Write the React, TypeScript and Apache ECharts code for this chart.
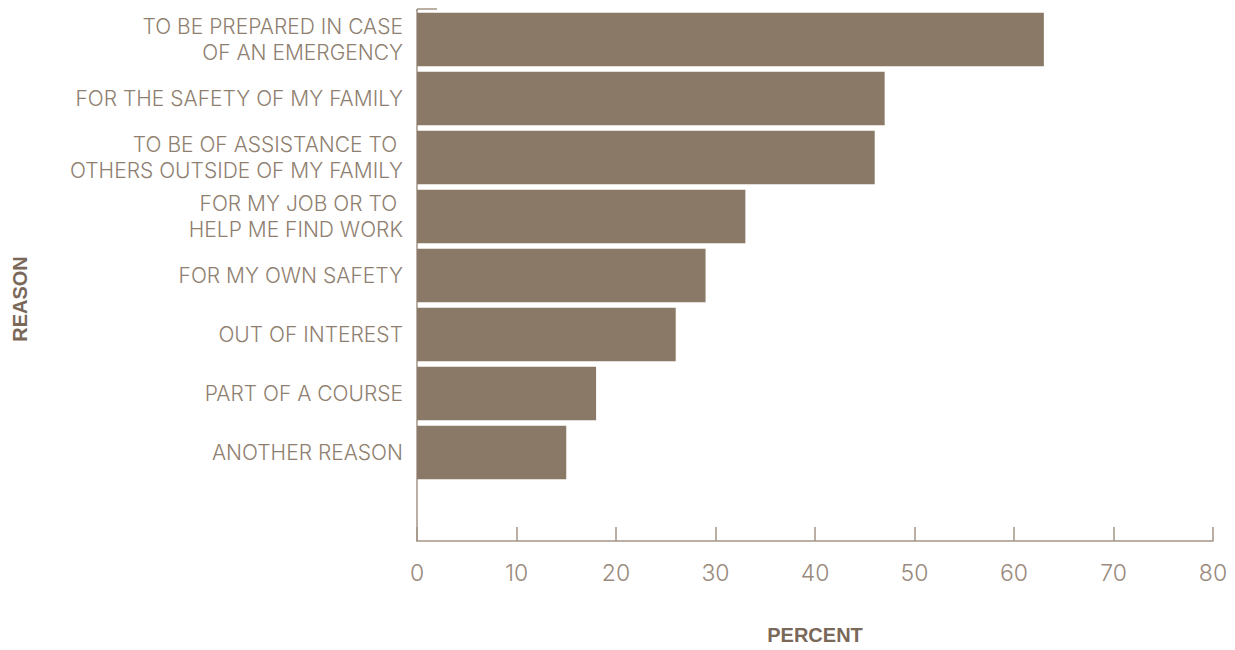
import React, { useEffect, useRef } from "react";
import * as echarts from "echarts";

const categories = [
  "TO BE PREPARED IN CASE\nOF AN EMERGENCY",
  "FOR THE SAFETY OF MY FAMILY",
  "TO BE OF ASSISTANCE TO \nOTHERS OUTSIDE OF MY FAMILY",
  "FOR MY JOB OR TO \nHELP ME FIND WORK",
  "FOR MY OWN SAFETY",
  "OUT OF INTEREST",
  "PART OF A COURSE",
  "ANOTHER REASON",
  "",
];
const values: (number | null)[] = [63, 47, 46, 33, 29, 26, 18, 15, null];
const xTicks = [0, 10, 20, 30, 40, 50, 60, 70, 80];

const BAR = "#8a7967";
const AXIS = "#a39586";
const LABEL = "#8f7f70";
const TICKLABEL = "#998a7d";
const TITLE = "#7a6859";

export default function App() {
  const ref = useRef<HTMLDivElement>(null);
  useEffect(() => {
    if (!ref.current) return;
    const chart = echarts.init(ref.current, null, { renderer: "svg" });
    chart.setOption({
      animation: false,
      grid: { left: 417, right: 22, top: 10, bottom: 105, containLabel: false },
      xAxis: {
        type: "value",
        min: xTicks[0],
        max: xTicks[xTicks.length - 1],
        interval: 10,
        name: "PERCENT",
        nameLocation: "middle",
        nameGap: 84,
        nameTextStyle: { fontFamily: "Liberation Sans", fontWeight: "bold", fontSize: 20, color: TITLE },
        axisLine: { show: true, lineStyle: { color: AXIS, width: 1.5 } },
        axisTick: { show: true, inside: true, length: 14, lineStyle: { color: AXIS, width: 1.5 } },
        axisLabel: { margin: 20, fontFamily: "Inter", fontWeight: 300, fontSize: 23, color: TICKLABEL },
        splitLine: { show: false },
      },
      yAxis: {
        type: "category",
        inverse: true,
        data: categories,
        axisLine: { show: true, lineStyle: { color: AXIS, width: 1.5 } },
        axisTick: { show: false },
        axisLabel: {
          margin: 14,
          fontFamily: "Inter",
          fontWeight: 300,
          fontSize: 21,
          lineHeight: 26,
          color: LABEL,
          align: "right",
        },
      },
      series: [
        {
          type: "bar",
          data: values,
          barCategoryGap: "9%",
          itemStyle: { color: BAR },
        },
      ],
      graphic: [
        {
          type: "line",
          shape: { x1: 417, y1: 9, x2: 437, y2: 9 },
          style: { stroke: AXIS, lineWidth: 1.5 },
        },
        {
          type: "line",
          shape: { x1: 417, y1: 9, x2: 417, y2: 11 },
          style: { stroke: AXIS, lineWidth: 1.5 },
        },
        {
          type: "text",
          x: 20,
          y: 299,
          rotation: Math.PI / 2,
          style: {
            text: "REASON",
            fontFamily: "Liberation Sans",
            fontWeight: "bold",
            fontSize: 20,
            fill: TITLE,
            textAlign: "center",
            textVerticalAlign: "middle",
          },
        },
      ],
    });
    return () => chart.dispose();
  }, []);
  return <div ref={ref} style={{ width: 1235, height: 650, margin: -8 }} />;
}
